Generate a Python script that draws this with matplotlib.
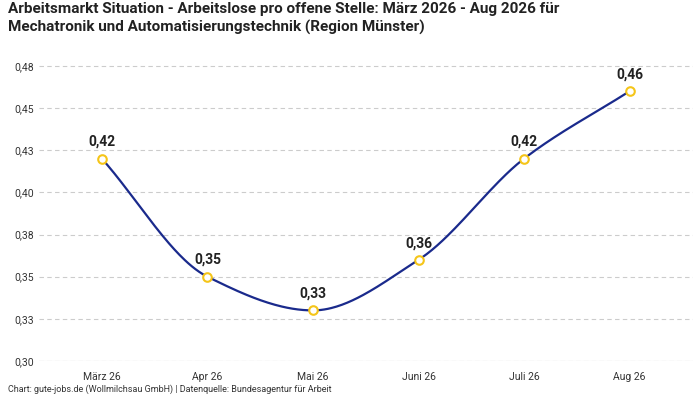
from decimal import Decimal, ROUND_HALF_UP

import numpy as np
import matplotlib.pyplot as plt
from matplotlib.ticker import FuncFormatter

plt.rcParams['font.family'] = ['Roboto', 'DejaVu Sans']

months = ["März 26", "Apr 26", "Mai 26", "Juni 26", "Juli 26", "Aug 26"]
values = [0.42, 0.35, 0.33, 0.36, 0.42, 0.46]
y_ticks = [0.30, 0.325, 0.35, 0.375, 0.40, 0.425, 0.45, 0.475]


def fmt(v):
    d = Decimal(str(round(v, 4))).quantize(Decimal("0.01"), rounding=ROUND_HALF_UP)
    return str(d).replace(".", ",")


def pchip(x, y, xs):
    # monotone cubic, nur fuer die glatte Linie
    x = np.asarray(x, float)
    y = np.asarray(y, float)
    h = np.diff(x)
    d = np.diff(y) / h
    m = np.zeros_like(y)
    for i in range(1, len(y) - 1):
        if d[i - 1] * d[i] > 0:
            w1 = 2 * h[i] + h[i - 1]
            w2 = h[i] + 2 * h[i - 1]
            m[i] = (w1 + w2) / (w1 / d[i - 1] + w2 / d[i])
    m[0] = d[0]
    m[-1] = d[-1]
    out = np.empty_like(xs)
    for j, t in enumerate(xs):
        i = min(np.searchsorted(x, t, side="right") - 1, len(x) - 2)
        s = (t - x[i]) / h[i]
        h00 = 2 * s**3 - 3 * s**2 + 1
        h10 = s**3 - 2 * s**2 + s
        h01 = -2 * s**3 + 3 * s**2
        h11 = s**3 - s**2
        out[j] = h00 * y[i] + h10 * h[i] * m[i] + h01 * y[i + 1] + h11 * h[i] * m[i + 1]
    return out


fig = plt.figure(figsize=(7, 4), dpi=100)
ax = fig.add_axes([0.055, 0.0975, 0.935, 0.78])

x = np.arange(len(months))
xs = np.linspace(0, len(months) - 1, 300)
ax.plot(xs, pchip(x, values, xs), color="#1a2a8c", lw=1.6, zorder=2)
ax.scatter(x, values, s=38, facecolor="white", edgecolor="#f5c518", lw=1.5, zorder=3)
for xi, v in zip(x, values):
    ax.annotate(fmt(v), (xi, v), xytext=(0, 7),
                textcoords="offset points", ha="center", va="bottom",
                fontsize=10, fontweight="bold", color="#222222")

ax.set_xlim(-0.6, len(months) - 0.4)
ax.set_ylim(0.30, 0.485)
ax.set_yticks(y_ticks)
ax.yaxis.set_major_formatter(FuncFormatter(lambda v, _: fmt(v)))
ax.set_xticks(x)
ax.set_xticklabels(months)
ax.tick_params(axis="both", length=0, labelsize=7.5, colors="#333333")
ax.tick_params(axis="x", pad=8)
ax.grid(axis="y", ls=(0, (4, 3)), color="#cccccc", lw=0.8)
for s in ax.spines.values():
    s.set_visible(False)
ax.axhline(0.30, color="#cccccc", lw=0.8)

fig.text(0.012, 0.995, "Arbeitsmarkt Situation - Arbeitslose pro offene Stelle: März 2026 - Aug 2026 für\n"
         "Mechatronik und Automatisierungstechnik (Region Münster)",
         ha="left", va="top", fontsize=11, fontweight="bold", color="#222222", linespacing=1.3)
fig.text(0.012, 0.015, "Chart: gute-jobs.de (Wollmilchsau GmbH) | Datenquelle: Bundesagentur für Arbeit",
         ha="left", va="bottom", fontsize=6.5, color="#333333")

fig.savefig("out.png", dpi=100)
